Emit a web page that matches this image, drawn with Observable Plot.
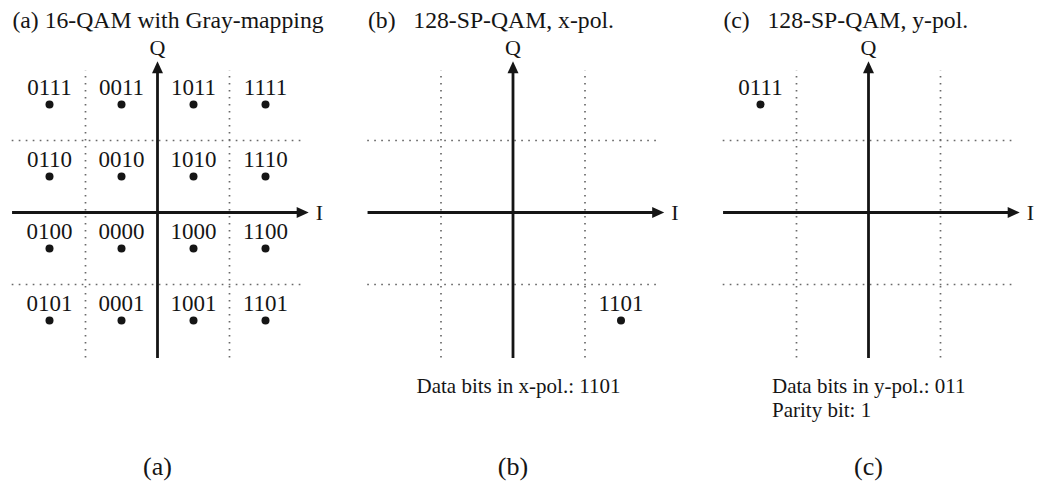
<!DOCTYPE html>
<html>
<head>
<meta charset="utf-8">
<script src="https://cdn.jsdelivr.net/npm/d3@7"></script>
<script src="https://cdn.jsdelivr.net/npm/@observablehq/plot@0.6"></script>
<style>
  body { margin: 0; background: #fff; }
  svg { display: block; }
</style>
</head>
<body>
<div id="chart"></div>
<script>
// ---- data ----
const panels = ["a", "b", "c"];
const panelTitles = [
  "(a) 16-QAM with Gray-mapping",
  "(b)\u00a0\u00a0 128-SP-QAM, x-pol.",
  "(c)\u00a0\u00a0 128-SP-QAM, y-pol."
];
const panelLabels = ["(a)", "(b)", "(c)"];
const captionPanel = ["b", "c"];
const captionText = ["Data bits in x-pol.: 1101", "Data bits in y-pol.: 011\nParity bit: 1"];

// constellation points (I, Q in symbol units)
const pointPanel = ["a","a","a","a","a","a","a","a","a","a","a","a","a","a","a","a","b","c"];
const pointI     = [-3,-1, 1, 3, -3,-1, 1, 3, -3,-1, 1, 3, -3,-1, 1, 3,  3, -3];
const pointQ     = [ 3, 3, 3, 3,  1, 1, 1, 1, -1,-1,-1,-1, -3,-3,-3,-3, -3,  3];
const pointBits  = ["0111","0011","1011","1111",
                    "0110","0010","1010","1110",
                    "0100","0000","1000","1100",
                    "0101","0001","1001","1101",
                    "1101","0111"];
const thresholds = [-2, 2];

// ---- layout helpers ----
const W = 1039, H = 482;
const unit = 36;            // px per symbol unit
const cx0 = 157, cy0 = 212; // pixel centre of panel (a)
const step = 9.875;         // panel spacing in symbol units
const off = p => panels.indexOf(p) * step;
const ink = "#151515";
const font = "'Liberation Serif', 'Times New Roman', serif";

const points = pointBits.map((b, i) => ({panel: pointPanel[i], I: pointI[i], Q: pointQ[i], bits: b}));
const grid = panels.flatMap(p => thresholds.map(t => ({panel: p, t})));
const axesData = panels.map((p, i) => ({panel: p, title: panelTitles[i], label: panelLabels[i]}));
const captions = captionText.map((t, i) => ({panel: captionPanel[i], text: t}));

// arrowheads with their tip at the anchor point
const headL = 12, headW = 5.5;
const arrowRight = {draw(ctx) { ctx.moveTo(0, 0); ctx.lineTo(-headL, -headW); ctx.lineTo(-headL, headW); ctx.closePath(); }};
const arrowUp = {draw(ctx) { ctx.moveTo(0, 0); ctx.lineTo(-headW, headL); ctx.lineTo(headW, headL); ctx.closePath(); }};

const axMin = -4.04, axTip = 4.2;
const gridStyle = {stroke: "#6a6a6a", strokeWidth: 1.7, strokeDasharray: "1.7,5.3"};

const chart = Plot.plot({
  width: W,
  height: H,
  margin: 0,
  x: {domain: [-cx0 / unit, (W - cx0) / unit], axis: null},
  y: {domain: [-(H - cy0) / unit, cy0 / unit], axis: null},
  style: {fontFamily: font, background: "#fff", color: ink},
  marks: [
    // dotted decision thresholds
    Plot.link(grid, {x1: d => off(d.panel) + d.t, x2: d => off(d.panel) + d.t, y1: () => -4.03, y2: () => 3.95, ...gridStyle}),
    Plot.link(grid, {x1: d => off(d.panel) - 4.05, x2: d => off(d.panel) + 4.0, y1: d => d.t, y2: d => d.t, ...gridStyle}),
    // I axis
    Plot.link(axesData, {x1: d => off(d.panel) + axMin, x2: d => off(d.panel) + axTip - 0.2, y1: () => 0, y2: () => 0, stroke: ink, strokeWidth: 2.8}),
    Plot.dot(axesData, {x: d => off(d.panel) + axTip, y: () => 0, symbol: arrowRight, r: 5, fill: ink, stroke: "none"}),
    // Q axis
    Plot.link(axesData, {x1: d => off(d.panel), x2: d => off(d.panel), y1: () => axMin, y2: () => axTip - 0.2, stroke: ink, strokeWidth: 2.8}),
    Plot.dot(axesData, {x: d => off(d.panel), y: () => axTip, symbol: arrowUp, r: 5, fill: ink, stroke: "none"}),
    // axis names
    Plot.text(axesData, {x: d => off(d.panel), y: () => 4.56, text: () => "Q", fontSize: 22, fill: ink}),
    Plot.text(axesData, {x: d => off(d.panel) + 4.5, y: () => 0, text: () => "I", fontSize: 22, fill: ink}),
    // constellation points + bit labels
    Plot.dot(points, {x: d => off(d.panel) + d.I, y: "Q", r: 4, fill: ink, stroke: "none"}),
    Plot.text(points, {x: d => off(d.panel) + d.I, y: "Q", text: "bits", dy: -17, fontSize: 23, fill: ink}),
    // panel titles
    Plot.text(axesData, {x: d => off(d.panel) - 4.03, y: () => 5.33, text: "title", textAnchor: "start", fontSize: 23.7, fill: ink}),
    // captions (multi-line)
    Plot.text(captions, {x: d => off(d.panel) - 2.68, y: () => -4.55, text: "text", textAnchor: "start", lineAnchor: "top", lineHeight: 1.12, fontSize: 21, fill: ink}),
    // sub-figure labels
    Plot.text(axesData, {x: d => off(d.panel), y: () => -7.06, text: "label", fontSize: 26, fill: ink})
  ]
});
document.getElementById("chart").appendChild(chart);
</script>
</body>
</html>
